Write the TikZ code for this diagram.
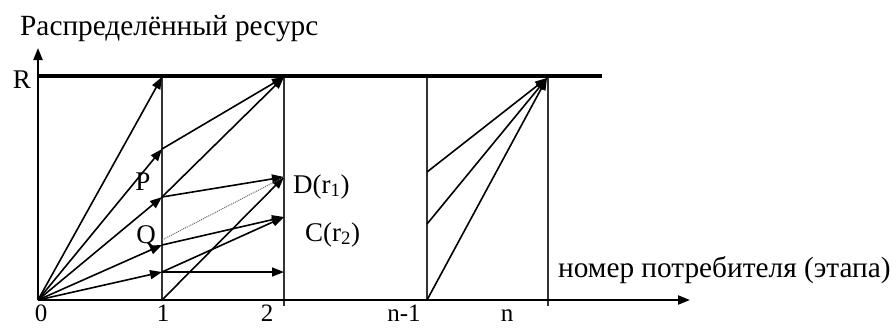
\documentclass[tikz,border=0pt]{standalone}
\usepackage{fontspec}
\setmainfont{Liberation Serif}
\usetikzlibrary{arrows.meta}
\begin{document}
\begin{tikzpicture}[x=1pt,y=-1pt,
  lbl/.style={inner sep=0pt,font=\fontsize{27}{31}\selectfont},
  tick/.style={inner sep=0pt,font=\fontsize{25}{29}\selectfont},
  big/.style={inner sep=0pt,font=\fontsize{29.3}{33}\selectfont},
  grid/.style={line width=2.2pt,draw=black!80},
  vec/.style={line width=1.6pt,-{Triangle[length=12pt,width=9pt]}},
  seg/.style={line width=1.6pt}]
\useasboundingbox (0,0) rectangle (896,327);
% points
\coordinate (O) at (38,300);
\coordinate (A1) at (162,77);
\coordinate (B1) at (162,149);
\coordinate (P) at (162,197);
\coordinate (Q) at (162,245);
\coordinate (E1) at (162,272);
\coordinate (F1) at (162,300);
\coordinate (T2) at (284,77);
\coordinate (D) at (284,177);
\coordinate (C) at (284,217);
\coordinate (H2) at (284,272);
\coordinate (Tn) at (547,78);
\coordinate (N1) at (427,172);
\coordinate (N2) at (427,224);
\coordinate (N3) at (427,300);
\coordinate (Ytop) at (38,48);
\coordinate (Xend) at (690,300);
\coordinate (Rend) at (602,76);
\coordinate (R0) at (38,76);
% vertical lines
\draw[grid] (162,76) -- (162,300);
\draw[grid] (284,76) -- (284,306);
\draw[grid] (427,76) -- (427,300);
\draw[grid] (548,76) -- (548,306);
% axes
\draw[line width=2.2pt,-{Triangle[length=12pt,width=9pt]}] (O) -- (Ytop);
\draw[line width=2.2pt,-{Triangle[length=12pt,width=9pt]}] (O) -- (Xend);
\draw[line width=4pt] (R0) -- (Rend);
% vectors from origin
\draw[vec] (O) -- (A1);
\draw[vec] (O) -- (B1);
\draw[vec] (O) -- (P);
\draw[vec] (O) -- (Q);
\draw[vec] (O) -- (E1);
% from stage 1 to stage 2
\draw[vec] (B1) -- (T2);
\draw[vec] (P) -- (T2);
\draw[vec] (P) -- (D);
\draw[vec] (F1) -- (D);
\draw[vec] (Q) -- (C);
\draw[vec] (E1) -- (C);
\draw[vec] (E1) -- (H2);
\draw[line width=1pt,densely dotted,draw=black!60] (162,240) -- (D);
% last stage
\draw[vec] (N1) -- (Tn);
\draw[vec] (N2) -- (Tn);
\draw[vec] (N3) -- (Tn);
% labels
\node[big,anchor=base west] (title) at (20,35) {Распределённый ресурс};
\node[lbl,anchor=base east] (Rl) at (31,88) {R};
\node[tick,anchor=base] (l0) at (41,321) {0};
\node[tick,anchor=base] (l1) at (163,321) {1};
\node[tick,anchor=base] (l2) at (267,321) {2};
\node[tick,anchor=base] (ln1) at (404,321) {n-1};
\node[tick,anchor=base] (ln) at (507,321) {n};
\node[lbl,anchor=base] (Pl) at (143,190) {P};
\node[lbl,anchor=base] (Ql) at (146,243) {Q};
\node[lbl,anchor=base west] (Dl) at (293,193) {D(r\textsubscript{1})};
\node[lbl,anchor=base west] (Cl) at (305,241) {C(r\textsubscript{2})};
\node[big,anchor=base west] (xl) at (558,277) {номер потребителя (этапа)};
\end{tikzpicture}
\end{document}
